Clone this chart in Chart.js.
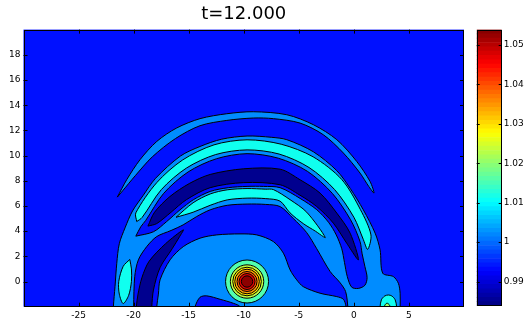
<!DOCTYPE html>
<html>
<head>
<meta charset="utf-8">
<script src="https://cdn.jsdelivr.net/npm/chart.js@4.4.1/dist/chart.umd.min.js"></script>
<style>
  html, body { margin: 0; padding: 0; background: #fff; }
  #wrap { position: relative; width: 529px; height: 320px; }
  #wrap canvas { position: absolute; top: 0; }
  #main { left: 0; }
  #cbar { left: 470px; }
</style>
</head>
<body>
<div id="wrap">
  <canvas id="main" width="529" height="320"></canvas>
  <canvas id="cbar" width="59" height="320"></canvas>
</div>
<script>
// axis ticks
const xTicks = [-25, -20, -15, -10, -5, 0, 5];
const yTicks = [0, 2, 4, 6, 8, 10, 12, 14, 16, 18];
const cbTicks = [0.99, 1, 1.01, 1.02, 1.03, 1.04, 1.05];
const cbMin = 0.9838, cbMax = 1.0539;

// contour regions (x, y in axis units)
const outerArcX = [-21.48, -20.63, -19.42, -17.90, -16.09, -13.97, -11.54, -9.13, -6.09, -3.68, -1.55, 0.26, 1.47, 1.83, 1.35, 0.56, -0.95, -2.77, -4.89, -7.31, -9.13, -11.54, -13.97, -16.2, -18.3, -19.85, -21.0];
const outerArcY = [6.70, 8.08, 9.67, 11.12, 12.19, 12.93, 13.32, 13.48, 13.24, 12.45, 11.26, 9.53, 7.94, 7.02, 7.55, 8.61, 10.20, 11.65, 12.58, 12.93, 12.98, 12.79, 12.37, 11.35, 9.9, 8.4, 7.2];

const archX = [-21.84, -21.84, -21.69, -21.53, -21.3, -20.78, -20.1, -19.12, -18.0, -15.75, -13.97, -12.0, -9.7, -7.5, -6.09, -3.68, -1.55, -0.34, 0.86, 1.93, 2.38, 2.62, 3.59, 4.04, 4.20, 4.20, 4.20];
const archY = [-2.6, -2.0, -0.41, 1.45, 3.0, 4.26, 5.6, 6.85, 8.2, 9.96, 10.72, 11.3, 11.55, 11.45, 11.26, 10.3, 8.8, 7.4, 5.69, 3.84, 2.51, 0.66, 0.39, -0.14, -0.93, -2.0, -2.6];

const archCyanX = [-19.72, -19.8, -17.9, -15.55, -12.7, -9.7, -6.6, -3.7, -1.1, 0.6, 1.55, 1.25, 0.85, 0.0, -1.75, -4.07, -6.79, -9.7, -12.55, -15.2, -17.48, -19.23];
const archCyanY = [4.76, 5.45, 7.85, 9.65, 10.85, 11.25, 10.9, 9.9, 8.1, 5.7, 3.7, 2.55, 3.35, 5.1, 7.3, 9.05, 10.12, 10.45, 10.08, 9.01, 7.3, 5.08];

const gapX = [-19.8, -19.35, -18.9, -17.27, -15.05, -12.47, -9.7, -6.86, -4.22, -1.96, -0.3, 0.55, 0.75, 1.0, 1.2, 1.0, 0.4, -0.2, -0.6, -0.85, -1.1, -1.6, -2.3, -3.37, -4.89, -6.7, -8.2, -9.7, -11.4, -13.05, -14.58, -15.79, -17.0, -18.2];
const gapY = [3.6, 4.35, 4.85, 7.0, 8.7, 9.75, 10.15, 9.79, 8.75, 7.0, 4.9, 3.2, 2.2, 1.2, 0.3, -0.3, -0.55, -0.45, 0.4, 1.5, 2.6, 3.7, 4.7, 5.7, 6.6, 7.45, 7.55, 7.55, 7.45, 7.15, 6.49, 5.69, 4.76, 3.95];

const troughX = [-18.7, -18.1, -16.7, -14.9, -13.05, -10.0, -6.7, -4.89, -3.07, -1.55, -0.34, 0.41, -0.65, -1.86, -3.37, -4.89, -6.7, -10.0, -13.05, -15.2, -16.6, -17.9];
const troughY = [4.4, 5.5, 6.75, 7.8, 8.5, 8.95, 8.92, 8.08, 7.02, 5.43, 3.84, 1.72, 3.04, 4.63, 5.95, 6.85, 7.68, 7.85, 7.45, 6.5, 5.5, 4.6];

const innerGapX = [-20.0, -20.0, -19.9, -19.57, -18.81, -17.9, -16.6, -15.5, -14.27, -13.05, -11.5, -9.7, -8.0, -6.7, -5.5, -4.3, -3.37, -2.16, -1.25, -0.75, -0.55, -0.55];
const innerGapY = [-2.6, -2.0, 0.39, 1.72, 2.77, 3.57, 4.05, 4.5, 5.16, 5.69, 6.05, 6.15, 6.12, 5.95, 5.0, 3.9, 2.6, 0.8, -0.1, -0.8, -2.0, -2.6];

const innerCyanX = [-16.15, -14.6, -13.05, -11.5, -9.7, -8.0, -7.31, -5.8, -4.28, -2.6, -3.5, -4.6, -5.8, -6.7, -8.0, -9.7, -11.5, -13.05, -14.6];
const innerCyanY = [5.1, 6.25, 6.95, 7.28, 7.38, 7.33, 7.3, 6.5, 5.5, 3.5, 4.0, 4.6, 5.45, 6.38, 6.58, 6.62, 6.48, 6.05, 5.5];

const lowTroughX = [-19.75, -19.75, -19.6, -19.25, -18.6, -17.1, -15.49, -15.8, -16.5, -17.6, -18.2, -18.35, -18.35];
const lowTroughY = [-2.6, -2.0, -1.0, 0.3, 1.6, 3.0, 4.1, 3.6, 2.6, 1.1, -0.67, -2.0, -2.6];

const domeX = [-17.9, -17.9, -17.75, -17.6, -16.69, -15.49, -13.97, -12.45, -10.34, -8.82, -7.31, -6.40, -5.79, -5.19, -4.59, -3.07, -1.55, -0.95, -0.71, -0.71];
const domeY = [-2.6, -2.0, -1.0, 0.13, 1.72, 2.77, 3.44, 3.70, 3.78, 3.70, 3.17, 2.25, 0.92, 0.13, -0.41, -0.93, -1.2, -1.41, -2.0, -2.6];

const notchX = [-14.42, -14.42, -13.97, -13.36, -12.15, -10.94, -10.34, -10.34];
const notchY = [-2.6, -2.0, -1.25, -1.14, -1.41, -1.73, -2.0, -2.6];

const legBlobX = [-20.35, -20.2, -20.2, -20.45, -20.95, -21.3, -21.35, -20.95];
const legBlobY = [1.75, 1.0, 0.0, -1.1, -1.75, -1.0, 0.0, 1.2];

const edgeBlobX = [2.38, 2.38, 2.5, 2.8, 3.13, 3.45, 3.75, 3.88, 3.88];
const edgeBlobY = [-2.6, -2.0, -1.45, -1.15, -1.07, -1.15, -1.45, -2.0, -2.6];
const edgeCoreX = [2.75, 2.78, 3.0, 3.25, 3.3];
const edgeCoreY = [-2.6, -1.95, -1.72, -1.9, -2.6];

// source peak
const srcX = [-9.7];
const srcY = [0.0];

const BG = 'rgb(0,16,255)';
const LB = 'rgb(0,140,255)';
const CY = 'rgb(16,255,239)';
const NV = 'rgb(0,0,143)';
const FONT = 'DejaVu Sans';

function jet(t) {
  const c = v => Math.round(255 * Math.max(0, Math.min(1, v)));
  return `rgb(${c(1.5 - Math.abs(4 * t - 3))},${c(1.5 - Math.abs(4 * t - 2))},${c(1.5 - Math.abs(4 * t - 1))})`;
}

let layer = 0;
function region(xs, ys, color) {
  const pts = xs.map((x, i) => ({ x, y: ys[i] }));
  pts.push(pts[0]);
  return {
    data: pts, backgroundColor: color, borderColor: '#000', borderWidth: 1,
    fill: 'shape', tension: 0.3, pointRadius: 0, pointHitRadius: 0,
    order: -(layer++)
  };
}

const datasets = [
  region(outerArcX, outerArcY, LB),
  region(archX, archY, LB),
  region(archCyanX, archCyanY, CY),
  region(gapX, gapY, BG),
  region(troughX, troughY, NV),
  region(innerGapX, innerGapY, BG),
  region(innerCyanX, innerCyanY, CY),
  region(lowTroughX, lowTroughY, NV),
  region(domeX, domeY, LB),
  region(notchX, notchY, BG),
  region(legBlobX, legBlobY, CY),
  region(edgeBlobX, edgeBlobY, CY),
  region(edgeCoreX, edgeCoreY, 'rgb(150,255,105)')
];

// peak rings, outermost first
const ringSizes = [21.5, 16.7, 14.3, 12.3, 10, 8, 5.7];
const ringColors = ['rgb(80,255,175)', 'rgb(190,255,65)', 'rgb(255,235,0)', 'rgb(255,160,0)', 'rgb(255,85,0)', 'rgb(225,0,0)', 'rgb(140,0,0)'];
ringSizes.forEach((r, i) => {
  datasets.push({
    data: srcX.map((x, j) => ({ x, y: srcY[j] })),
    showLine: false, pointRadius: r, pointHoverRadius: r,
    pointBackgroundColor: ringColors[i], pointBorderColor: '#000', pointBorderWidth: 1,
    order: -(layer++)
  });
});

function inwardTicks(ctx, a, xs, ys, len) {
  ctx.beginPath();
  xs.forEach(px => {
    const p = Math.round(px) + 0.5;
    ctx.moveTo(p, a.top); ctx.lineTo(p, a.top + len);
    ctx.moveTo(p, a.bottom); ctx.lineTo(p, a.bottom - len);
  });
  ys.forEach(py => {
    const p = Math.round(py) + 0.5;
    ctx.moveTo(a.left, p); ctx.lineTo(a.left + len, p);
    ctx.moveTo(a.right, p); ctx.lineTo(a.right - len, p);
  });
  ctx.stroke();
}

const frame = {
  id: 'frame',
  beforeDatasetsDraw(chart) {
    const { ctx, chartArea: a } = chart;
    ctx.save();
    ctx.fillStyle = BG;
    ctx.fillRect(a.left, a.top, a.width, a.height);
    ctx.restore();
  },
  afterDatasetsDraw(chart) {
    const { ctx, chartArea: a, scales } = chart;
    ctx.save();
    ctx.strokeStyle = '#000';
    ctx.lineWidth = 1;
    ctx.strokeRect(Math.round(a.left) + 0.5, Math.round(a.top) + 0.5,
      Math.round(a.right) - Math.round(a.left) - 1, Math.round(a.bottom) - Math.round(a.top) - 1);
    inwardTicks(ctx, a, xTicks.map(v => scales.x.getPixelForValue(v)),
      yTicks.map(v => scales.y.getPixelForValue(v)), 4);
    ctx.restore();
  }
};

const noGrid = { display: false, drawTicks: false, tickLength: 0 };

new Chart(document.getElementById('main'), {
  type: 'line',
  data: { datasets },
  plugins: [frame],
  options: {
    responsive: false,
    animation: false,
    events: [],
    layout: { autoPadding: false, padding: { left: 0, right: 65, top: 0, bottom: 0 } },
    scales: {
      x: {
        type: 'linear', min: -30, max: 10,
        grid: noGrid, border: { display: false },
        ticks: { font: { family: FONT, size: 9 }, color: '#000', padding: 4, maxRotation: 0, autoSkip: false },
        afterBuildTicks: s => { s.ticks = xTicks.map(v => ({ value: v })); },
        afterFit: s => { s.height = 13.3; }
      },
      y: {
        type: 'linear', min: -2, max: 20,
        grid: noGrid, border: { display: false },
        ticks: { font: { family: FONT, size: 9 }, color: '#000', padding: 3, autoSkip: false },
        afterBuildTicks: s => { s.ticks = yTicks.map(v => ({ value: v })); },
        afterFit: s => { s.width = 23.5; }
      }
    },
    plugins: {
      legend: { display: false },
      tooltip: { enabled: false },
      title: {
        display: true, text: 't=12.000', fullSize: false, color: '#000',
        font: { family: FONT, size: 18, weight: 'normal' },
        padding: { top: 4, bottom: 4 }
      }
    }
  }
});

// colour bar
const nBands = 64;
const step = (cbMax - cbMin) / nBands;
const cbDatasets = [];
for (let i = 0; i < nBands; i++) {
  cbDatasets.push({
    data: [[cbMin + i * step, cbMin + (i + 1) * step]],
    backgroundColor: jet((i + 0.5) / nBands),
    borderWidth: 0, barPercentage: 1, categoryPercentage: 1, grouped: false
  });
}

const cbFrame = {
  id: 'cbFrame',
  afterDatasetsDraw(chart) {
    const { ctx, chartArea: a, scales } = chart;
    ctx.save();
    ctx.strokeStyle = '#000';
    ctx.lineWidth = 1;
    ctx.strokeRect(Math.round(a.left) + 0.5, Math.round(a.top) + 0.5,
      Math.round(a.right) - Math.round(a.left) - 1, Math.round(a.bottom) - Math.round(a.top) - 1);
    inwardTicks(ctx, a, [], cbTicks.map(v => scales.y.getPixelForValue(v)), 3);
    ctx.restore();
  }
};

new Chart(document.getElementById('cbar'), {
  type: 'bar',
  data: { labels: [''], datasets: cbDatasets },
  plugins: [cbFrame],
  options: {
    responsive: false,
    animation: false,
    events: [],
    layout: { autoPadding: false, padding: { left: 6.7, right: 0, top: 29.5, bottom: 14 } },
    scales: {
      x: { display: false },
      y: {
        position: 'right', min: cbMin, max: cbMax,
        grid: noGrid, border: { display: false },
        ticks: {
          font: { family: FONT, size: 9 }, color: '#000', padding: 2, autoSkip: false,
          callback: v => String(+v.toFixed(2))
        },
        afterBuildTicks: s => { s.ticks = cbTicks.map(v => ({ value: v })); },
        afterFit: s => { s.width = 27.3; }
      }
    },
    plugins: { legend: { display: false }, tooltip: { enabled: false } }
  }
});
</script>
</body>
</html>
